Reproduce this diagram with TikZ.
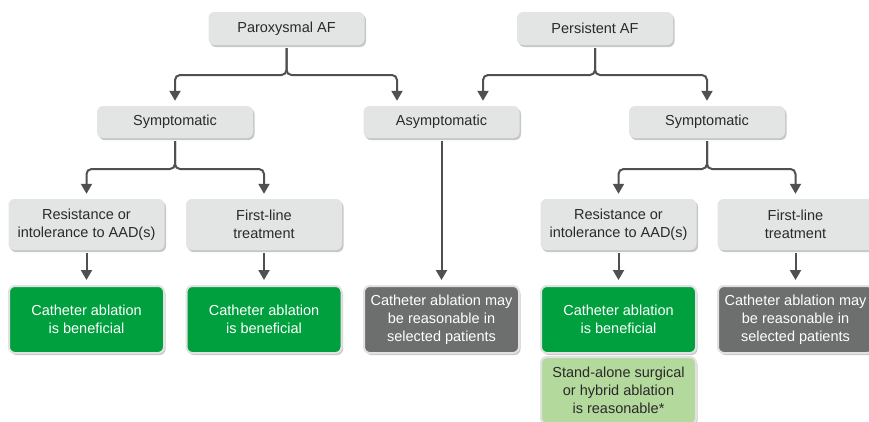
\documentclass[tikz,border=0pt]{standalone}
\usepackage{fontspec}
\setmainfont{Liberation Sans}
\usetikzlibrary{arrows.meta,shadows}
\definecolor{boxgray}{HTML}{E3E4E4}
\definecolor{catgreen}{HTML}{00A03E}
\definecolor{maygray}{HTML}{6D6E6E}
\definecolor{lightgreen}{HTML}{B4D99C}
\definecolor{linegray}{HTML}{505052}
\definecolor{rimgray}{HTML}{E2E2E2}
\definecolor{txtdark}{HTML}{2A2A2A}
\begin{document}
\begin{tikzpicture}[x=1pt,y=-1pt,
  base/.style={rounded corners=6pt, align=center, inner sep=0pt,
    font=\fontsize{14.5}{18}\selectfont,
    drop shadow={shadow xshift=1.5pt,shadow yshift=-2pt,opacity=0.22,fill=black}},
  cond/.style={base, fill=boxgray, text=txtdark, minimum width=156pt},
  rim/.style={base, draw=rimgray, line width=2pt, minimum width=155pt, minimum height=67pt},
  good/.style={rim, fill=catgreen, text=white},
  maybe/.style={rim, fill=maygray, text=white},
  surg/.style={rim, fill=lightgreen, text=txtdark},
  conn/.style={draw=linegray, line width=2pt, rounded corners=5pt,
    -{Triangle[width=11pt,length=10pt]}, shorten >=5pt, shorten <=3pt},
]
\useasboundingbox (0,0) rectangle (869,421);
\clip (0,0) rectangle (869,421);

% row 1
\node[cond, minimum height=33pt] (par) at (286.5,28.5) {Paroxysmal AF};
\node[cond, minimum height=33pt] (per) at (595,28.5) {Persistent AF};
% row 2
\node[cond, minimum height=32pt] (symL) at (175,122) {Symptomatic};
\node[cond, minimum height=32pt] (asym) at (441.5,122) {Asymptomatic};
\node[cond, minimum height=32pt] (symR) at (707,122) {Symptomatic};
% row 3
\node[cond, minimum height=51pt] (resL) at (86.5,224.5) {Resistance or\\intolerance to AAD(s)};
\node[cond, minimum height=51pt] (firL) at (264,224.5) {First-line\\treatment};
\node[cond, minimum height=51pt] (resR) at (618.5,224.5) {Resistance or\\intolerance to AAD(s)};
\node[cond, minimum height=51pt] (firR) at (795.5,224.5) {First-line\\treatment};
% row 4
\node[good] (catL1) at (86.5,319.5) {Catheter ablation\\is beneficial};
\node[good] (catL2) at (264,319.5) {Catheter ablation\\is beneficial};
\node[maybe] (mayM) at (441.5,319.5) {Catheter ablation may\\be reasonable in\\selected patients};
\node[good] (catR) at (618.5,319.5) {Catheter ablation\\is beneficial};
\node[maybe] (mayR) at (795.5,319.5) {Catheter ablation may\\be reasonable in\\selected patients};
\node[surg] (stand) at (618.5,390.5) {Stand-alone surgical\\or hybrid ablation\\is reasonable*};

% junctions
\coordinate (jpar) at (286.5,75);
\coordinate (jper) at (595,75);
\coordinate (jsymL) at (175,169);
\coordinate (jsymR) at (707,169);

% connectors
\draw[conn] (par.south) -- (jpar) -| (symL.north);
\draw[conn] (par.south) -- (jpar) -| ([xshift=-44.5pt]asym.north);
\draw[conn] (per.south) -- (jper) -| ([xshift=41.5pt]asym.north);
\draw[conn] (per.south) -- (jper) -| (symR.north);
\draw[conn] (symL.south) -- (jsymL) -| (resL.north);
\draw[conn] (symL.south) -- (jsymL) -| (firL.north);
\draw[conn] (symR.south) -- (jsymR) -| (resR.north);
\draw[conn] (symR.south) -- (jsymR) -| (firR.north);
\draw[conn] (asym.south) -- (mayM.north);
\draw[conn] (resL.south) -- (catL1.north);
\draw[conn] (firL.south) -- (catL2.north);
\draw[conn] (resR.south) -- (catR.north);
\draw[conn] (firR.south) -- (mayR.north);
\end{tikzpicture}
\end{document}
